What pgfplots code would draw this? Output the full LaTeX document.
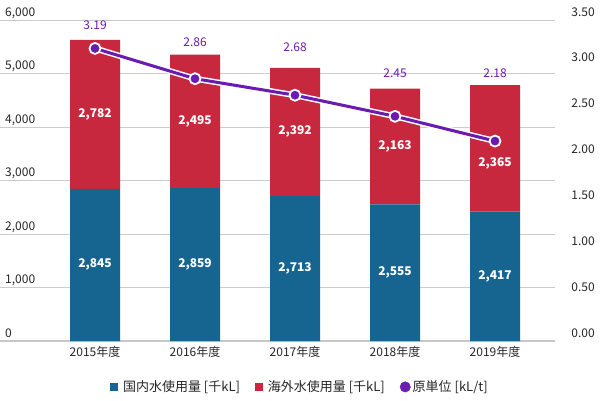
\documentclass[border=0pt]{standalone}
\usepackage{fontspec}
\setmainfont{Noto Sans CJK JP}
\usepackage{pgfplots}
\usepackage{pgfplotstable}
\pgfplotsset{compat=1.18}

\definecolor{cblue}{HTML}{166591}
\definecolor{cred}{HTML}{C8283E}
\definecolor{cpurple}{HTML}{6A1BB0}
\definecolor{cgrid}{HTML}{CCCCCC}

\pgfplotsset{
  /pgf/number format/assume math mode=true,
  /pgf/number format/1000 sep={,},
  base/.style={
    scale only axis, width=555pt, height=321pt,
    at={(0pt,59pt)}, anchor=south west,
    xmin=-0.95, xmax=4.6,
    major tick length=0pt,
    tick label style={font=\fontsize{12}{14}\selectfont, text=black!85},
  },
}

% water use [thousand kL]; redlab = height of the red label
\pgfplotstableread{
x blue red redlab
0 2845 2782 4236
1 2859 2495 4106
2 2713 2392 3909
3 2555 2163 3636
4 2417 2365 3310
}\water

% intensity [kL/t], laby = where its label sits
\pgfplotstableread{
x rate laby
0 3.19 3.44
1 2.86 3.26
2 2.68 3.20
3 2.45 2.92
4 2.18 2.92
}\rate

\begin{document}
\begin{tikzpicture}
\useasboundingbox (0,0) rectangle (600pt,400pt);

\begin{axis}[base,
  ybar stacked, bar width=50pt,
  ymin=0, ymax=6000, ytick={0,1000,...,6000},
  axis x line*=bottom, axis y line*=left,
  x axis line style={draw=black!22, line width=1.5pt},
  y axis line style={draw=none},
  ymajorgrids, grid style={cgrid, line width=0.8pt},
  xtick={0,...,4},
  xticklabels={2015年度,2016年度,2017年度,2018年度,2019年度},
  xticklabel style={anchor=north, inner sep=0pt, yshift=-5pt},
  yticklabel style={anchor=base west, inner sep=0pt, xshift=5pt, yshift=4pt},
]
\addplot[fill=cblue, draw=none] table[x=x, y=blue] {\water};
\addplot[fill=cred, draw=none] table[x=x, y=red] {\water};
\end{axis}

% segment labels
\begin{axis}[base, hide axis, ymin=0, ymax=6000,
  nodes near coords={\pgfmathprintnumber{\pgfplotspointmeta}},
  every node near coord/.append style={anchor=center, text=white,
    font=\fontsize{12}{14}\selectfont\bfseries},
]
\addplot[draw=none, mark=none, point meta=explicit]
  table[x=x, y expr=\thisrow{blue}/2, meta=blue] {\water};
\addplot[draw=none, mark=none, point meta=explicit]
  table[x=x, y=redlab, meta=red] {\water};
\end{axis}

\begin{axis}[base,
  ymin=0, ymax=3.5, ytick={0,0.5,...,3.5},
  axis y line*=right, axis x line=none,
  y axis line style={draw=none},
  yticklabel style={anchor=base east, inner sep=0pt, xshift=40pt, yshift=4pt,
    /pgf/number format/.cd, fixed, fixed zerofill, precision=2},
  legend style={at={(0.5405,-0.143)}, anchor=center, draw=none, fill=none,
    legend columns=3, font=\fontsize{13}{15}\selectfont, text=black!85,
    /tikz/every even column/.append style={column sep=13pt}},
  legend cell align=left,
]
\addlegendimage{legend image code/.code={
  \fill[cblue] (0pt,-3.6pt) rectangle (7.2pt,3.6pt); \path (10.5pt,0pt);}}
\addlegendentry{国内水使用量 [千kL]}
\addlegendimage{legend image code/.code={
  \fill[cred] (0pt,-3.6pt) rectangle (7.2pt,3.6pt); \path (10.5pt,0pt);}}
\addlegendentry{海外水使用量 [千kL]}
\addlegendimage{legend image code/.code={
  \fill[cpurple] (5.2pt,0pt) circle (5.2pt); \path (10.5pt,0pt);}}
\addlegendentry{原単位 [kL/t]}

\addplot[white, line width=6pt, forget plot] table[x=x, y=rate] {\rate};
\addplot[cpurple, line width=3pt, mark=*, mark size=5.5pt,
  mark options={fill=cpurple, draw=white, line width=1.8pt}, forget plot]
  table[x=x, y=rate] {\rate};
\addplot[draw=none, mark=none, forget plot, point meta=explicit,
  nodes near coords={\pgfmathprintnumber[fixed, fixed zerofill, precision=2]{\pgfplotspointmeta}},
  every node near coord/.append style={anchor=center, text=cpurple,
    font=\fontsize{12}{14}\selectfont}]
  table[x=x, y=laby, meta=rate] {\rate};
\end{axis}
\end{tikzpicture}
\end{document}
